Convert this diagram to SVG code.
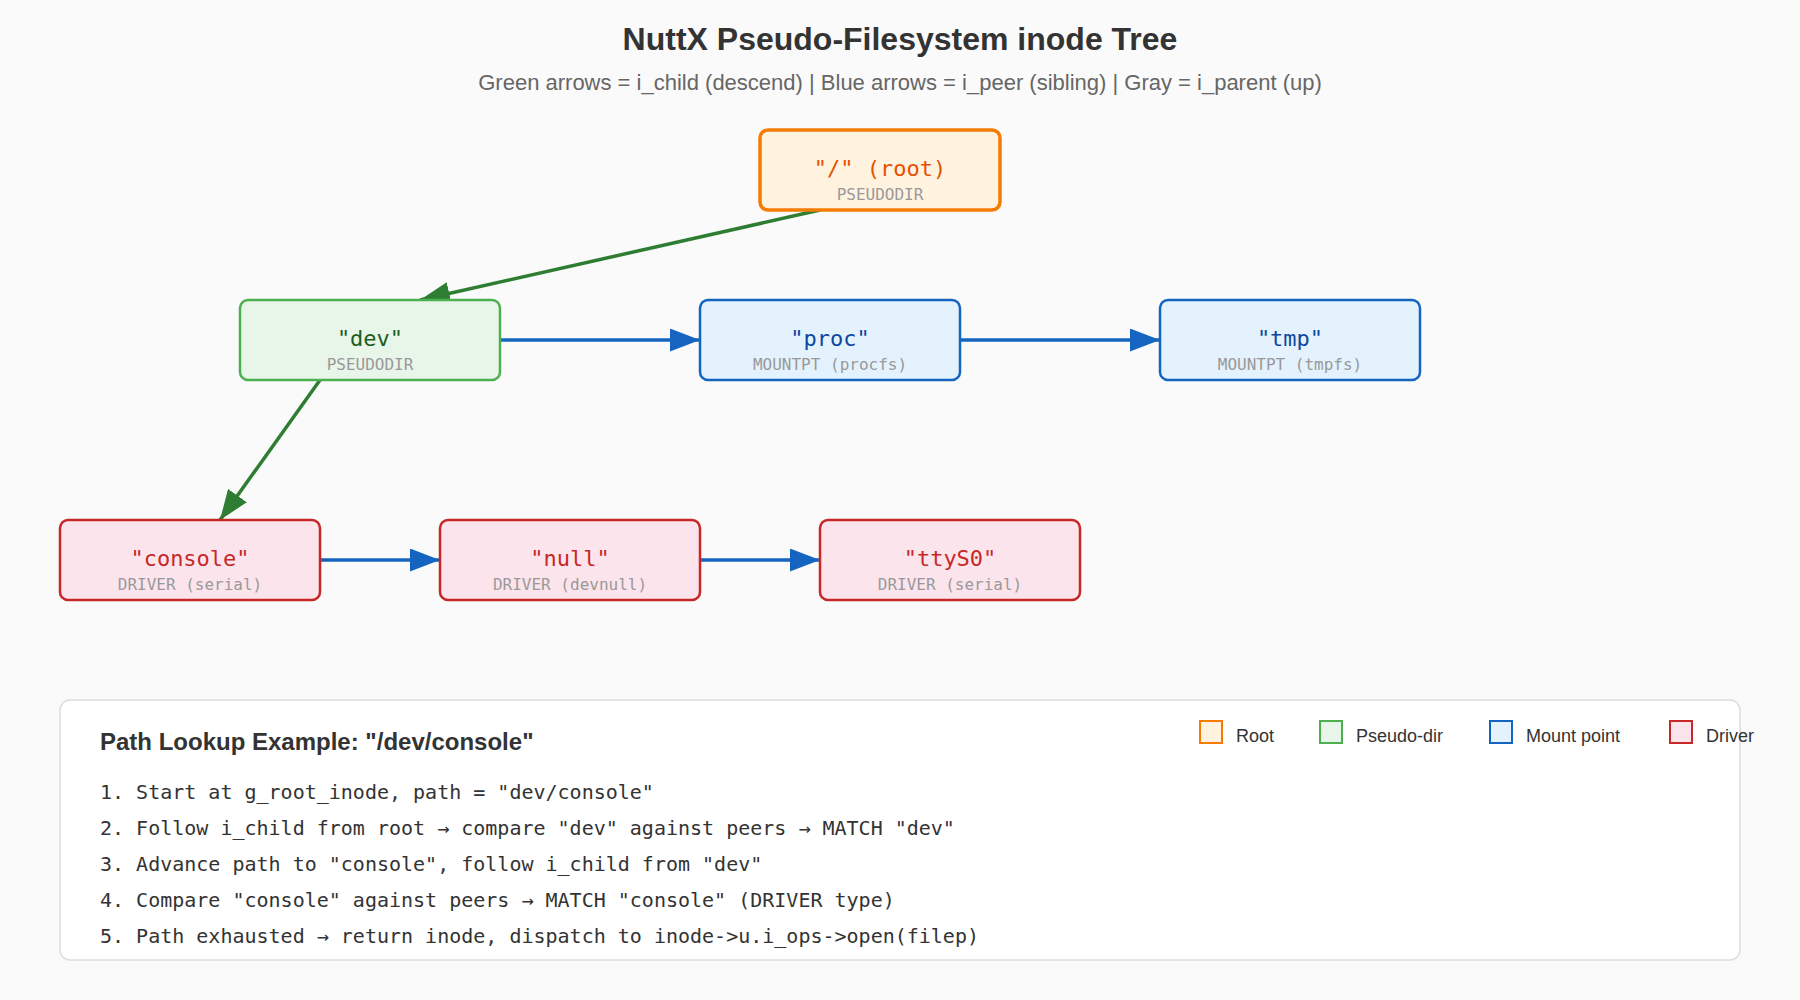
<svg xmlns="http://www.w3.org/2000/svg" width="1800" height="1000" viewBox="0 0 1800 1000">
<style>
.bg{fill:#fafafa}
.title{font-family:"Liberation Sans",Arial,sans-serif;font-size:32px;font-weight:bold;fill:#333;text-anchor:middle}
.subtitle{font-family:"Liberation Sans",Arial,sans-serif;font-size:22px;fill:#666;text-anchor:middle}
.lbl{font-family:"DejaVu Sans Mono",monospace;font-size:22px;text-anchor:middle}
.sub{font-family:"DejaVu Sans Mono",monospace;font-size:16px;fill:#999;text-anchor:middle}
.root rect{fill:#fff3e0;stroke:#f57c00;stroke-width:3.5}
.root .lbl{fill:#e65100}
.pdir rect{fill:#e8f5e9;stroke:#4caf50;stroke-width:2.5}
.pdir .lbl{fill:#1b5e20}
.mnt rect{fill:#e3f2fd;stroke:#1565c0;stroke-width:2.5}
.mnt .lbl{fill:#0d47a1}
.drv rect{fill:#fce4ec;stroke:#c62828;stroke-width:2.5}
.drv .lbl{fill:#c62828}
.child{stroke:#2e7d32;stroke-width:3.5;fill:none}
.peer{stroke:#1565c0;stroke-width:3.5;fill:none}
.panel{fill:#fff;stroke:#ddd;stroke-width:1.5}
.ptitle{font-family:"Liberation Sans",Arial,sans-serif;font-size:24px;font-weight:bold;fill:#333}
.step{font-family:"DejaVu Sans Mono",monospace;font-size:20px;fill:#333}
.leg{font-family:"Liberation Sans",Arial,sans-serif;font-size:18px;fill:#333}
</style>
<defs>
<marker id="ag" viewBox="0 0 30 23" markerWidth="30" markerHeight="23" refX="30" refY="11.5" orient="auto" markerUnits="userSpaceOnUse"><polygon points="0 0,30 11.5,0 23" fill="#2e7d32"/></marker>
<marker id="ab" viewBox="0 0 30 23" markerWidth="30" markerHeight="23" refX="30" refY="11.5" orient="auto" markerUnits="userSpaceOnUse"><polygon points="0 0,30 11.5,0 23" fill="#1565c0"/></marker>
</defs>
<rect class="bg" x="0" y="0" width="1800" height="1000"/>
<text class="title" x="900" y="50">NuttX Pseudo-Filesystem inode Tree</text>
<text class="subtitle" x="900" y="90">Green arrows = i_child (descend) | Blue arrows = i_peer (sibling) | Gray = i_parent (up)</text>

<g id="connectors">
<line class="child" x1="820" y1="210" x2="420" y2="300" marker-end="url(#ag)"/>
<line class="child" x1="320" y1="380" x2="220" y2="520" marker-end="url(#ag)"/>
<line class="peer" x1="500" y1="340" x2="700" y2="340" marker-end="url(#ab)"/>
<line class="peer" x1="960" y1="340" x2="1160" y2="340" marker-end="url(#ab)"/>
<line class="peer" x1="320" y1="560" x2="440" y2="560" marker-end="url(#ab)"/>
<line class="peer" x1="700" y1="560" x2="820" y2="560" marker-end="url(#ab)"/>
</g>

<g id="node-root" class="root"><rect x="760" y="130" width="240" height="80" rx="8"/><text class="lbl" x="880" y="176">"/" (root)</text><text class="sub" x="880" y="200">PSEUDODIR</text></g>
<g id="node-dev" class="pdir"><rect x="240" y="300" width="260" height="80" rx="8"/><text class="lbl" x="370" y="346">"dev"</text><text class="sub" x="370" y="370">PSEUDODIR</text></g>
<g id="node-proc" class="mnt"><rect x="700" y="300" width="260" height="80" rx="8"/><text class="lbl" x="830" y="346">"proc"</text><text class="sub" x="830" y="370">MOUNTPT (procfs)</text></g>
<g id="node-tmp" class="mnt"><rect x="1160" y="300" width="260" height="80" rx="8"/><text class="lbl" x="1290" y="346">"tmp"</text><text class="sub" x="1290" y="370">MOUNTPT (tmpfs)</text></g>
<g id="node-console" class="drv"><rect x="60" y="520" width="260" height="80" rx="8"/><text class="lbl" x="190" y="566">"console"</text><text class="sub" x="190" y="590">DRIVER (serial)</text></g>
<g id="node-null" class="drv"><rect x="440" y="520" width="260" height="80" rx="8"/><text class="lbl" x="570" y="566">"null"</text><text class="sub" x="570" y="590">DRIVER (devnull)</text></g>
<g id="node-ttyS0" class="drv"><rect x="820" y="520" width="260" height="80" rx="8"/><text class="lbl" x="950" y="566">"ttyS0"</text><text class="sub" x="950" y="590">DRIVER (serial)</text></g>

<g id="panel">
<rect class="panel" x="60" y="700" width="1680" height="260" rx="10"/>
<text class="ptitle" x="100" y="750">Path Lookup Example: "/dev/console"</text>
<text class="step" x="100" y="799">1. Start at g_root_inode, path = "dev/console"</text>
<text class="step" x="100" y="835">2. Follow i_child from root → compare "dev" against peers → MATCH "dev"</text>
<text class="step" x="100" y="871">3. Advance path to "console", follow i_child from "dev"</text>
<text class="step" x="100" y="907">4. Compare "console" against peers → MATCH "console" (DRIVER type)</text>
<text class="step" x="100" y="943">5. Path exhausted → return inode, dispatch to inode-&gt;u.i_ops-&gt;open(filep)</text>
</g>

<g id="legend">
<rect x="1200" y="721" width="22" height="22" fill="#fff3e0" stroke="#f57c00" stroke-width="2"/>
<text class="leg" x="1236" y="742">Root</text>
<rect x="1320" y="721" width="22" height="22" fill="#e8f5e9" stroke="#4caf50" stroke-width="2"/>
<text class="leg" x="1356" y="742">Pseudo-dir</text>
<rect x="1490" y="721" width="22" height="22" fill="#e3f2fd" stroke="#1565c0" stroke-width="2"/>
<text class="leg" x="1526" y="742">Mount point</text>
<rect x="1670" y="721" width="22" height="22" fill="#fce4ec" stroke="#c62828" stroke-width="2"/>
<text class="leg" x="1706" y="742">Driver</text>
</g>
</svg>
